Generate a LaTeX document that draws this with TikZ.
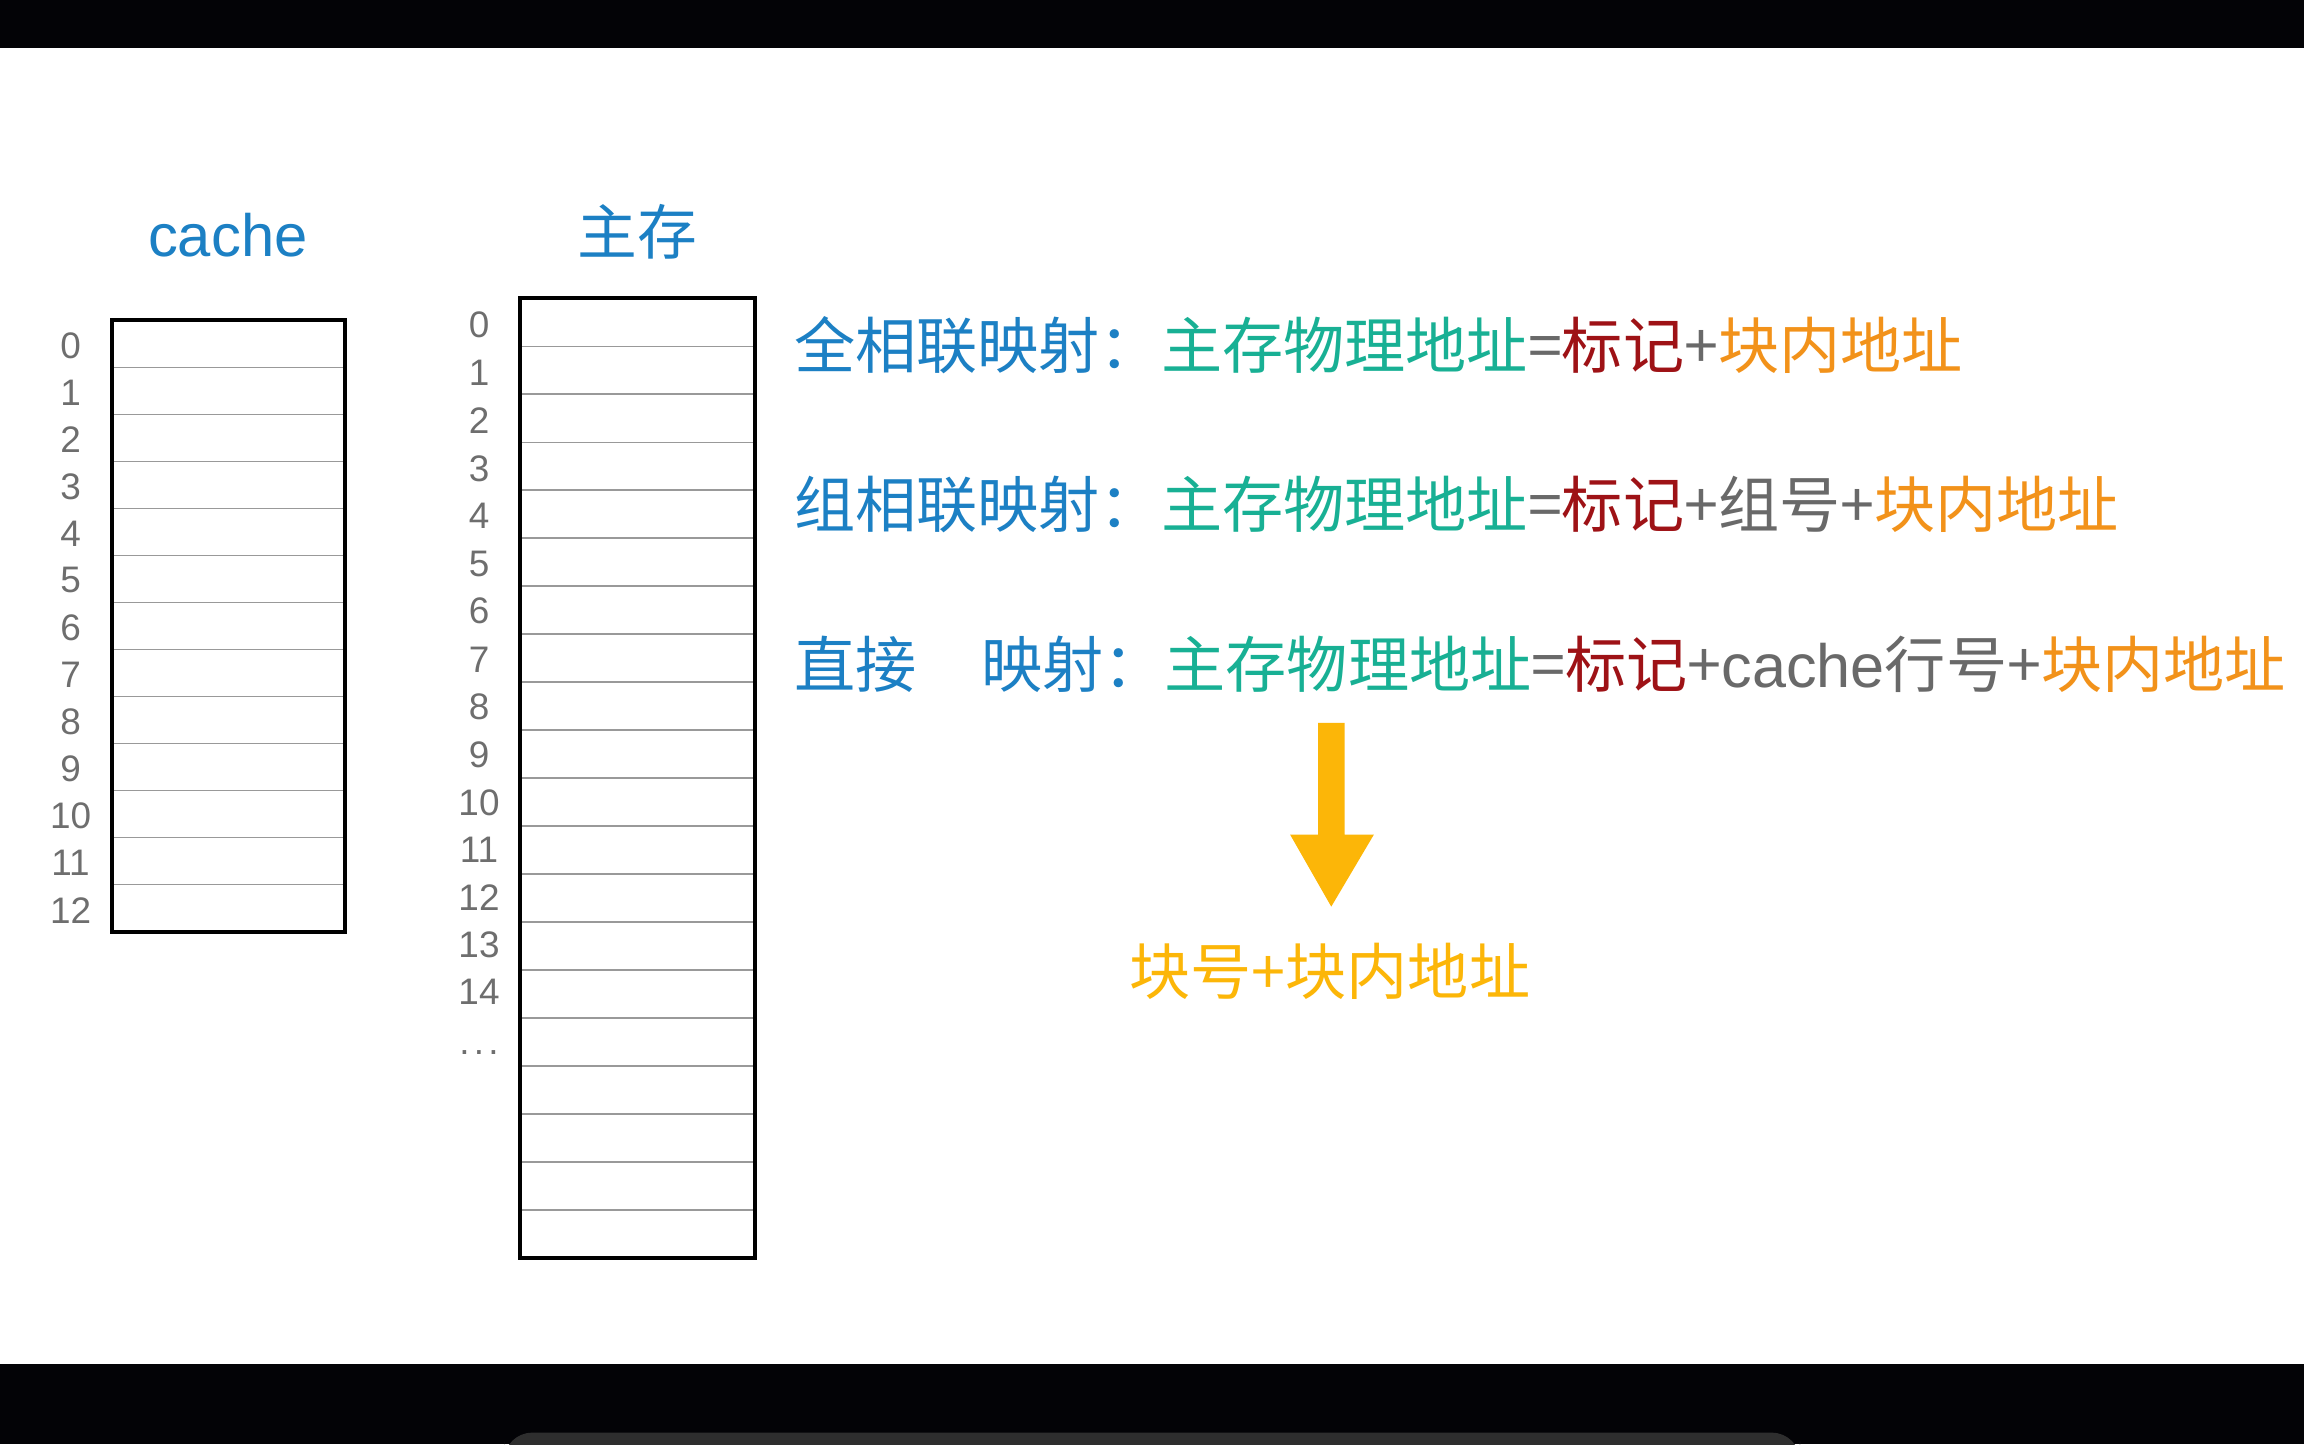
\documentclass[tikz,border=0pt]{standalone}
\usepackage{fontspec}
\setmainfont{Noto Sans CJK SC}
\newfontfamily\latinfont{Liberation Sans}
\definecolor{headblue}{RGB}{28,128,196}
\definecolor{addrteal}{RGB}{24,176,148}
\definecolor{tagred}{RGB}{158,18,22}
\definecolor{opgray}{RGB}{105,105,105}
\definecolor{offorange}{RGB}{242,146,26}
\definecolor{amber}{RGB}{252,182,8}
\definecolor{numgray}{RGB}{110,110,110}
\definecolor{barblack}{RGB}{3,3,6}
\tikzset{
  rowline/.style={draw=gray!80,line width=0.45pt},
  memframe/.style={draw=black,line width=1.1pt},
  idx/.style={inner sep=0pt,text=numgray,font=\latinfont\fontsize{10.5}{12}\selectfont},
  title/.style={inner sep=0pt,text=headblue,font=\fontsize{17}{20}\selectfont},
  formula/.style={inner sep=0pt,anchor=west,font=\fontsize{17.4}{20}\selectfont}
}
\begin{document}
\begin{tikzpicture}[x=0.014694cm,y=-0.014694cm]
\useasboundingbox (0,0) rectangle (1568,983);
\fill[white] (0,0) rectangle (1568,983);

% black bars of the frame
\fill[barblack] (0,0) rectangle (1568,33);
\fill[barblack] (0,928) rectangle (1568,983);
\fill[black!82,rounded corners=8pt] (343,975) rectangle (1225,1000);

% titles
\node[title] (tcache) at (155,160) {\latinfont cache};
\node[title] (tmem) at (434,158) {主存};

% cache
\draw[rowline](76,250)--(235,250);
\draw[rowline](76,282)--(235,282);
\draw[rowline](76,314)--(235,314);
\draw[rowline](76,346)--(235,346);
\draw[rowline](76,378)--(235,378);
\draw[rowline](76,410)--(235,410);
\draw[rowline](76,442)--(235,442);
\draw[rowline](76,474)--(235,474);
\draw[rowline](76,506)--(235,506);
\draw[rowline](76,538)--(235,538);
\draw[rowline](76,570)--(235,570);
\draw[rowline](76,602)--(235,602);
\draw[memframe] (76,218) rectangle (235,634);
\node[idx] (c0) at (48,235) {0};
\node[idx] (c1) at (48,267) {1};
\node[idx] (c2) at (48,299) {2};
\node[idx] (c3) at (48,331) {3};
\node[idx] (c4) at (48,363) {4};
\node[idx] (c5) at (48,395) {5};
\node[idx] (c6) at (48,427) {6};
\node[idx] (c7) at (48,459) {7};
\node[idx] (c8) at (48,491) {8};
\node[idx] (c9) at (48,523) {9};
\node[idx] (c10) at (48,555) {10};
\node[idx] (c11) at (48,587) {11};
\node[idx] (c12) at (48,620) {12};

% main memory
\draw[rowline](354,235.7)--(514,235.7);
\draw[rowline](354,268.3)--(514,268.3);
\draw[rowline](354,301.0)--(514,301.0);
\draw[rowline](354,333.6)--(514,333.6);
\draw[rowline](354,366.3)--(514,366.3);
\draw[rowline](354,398.9)--(514,398.9);
\draw[rowline](354,431.6)--(514,431.6);
\draw[rowline](354,464.2)--(514,464.2);
\draw[rowline](354,496.9)--(514,496.9);
\draw[rowline](354,529.5)--(514,529.5);
\draw[rowline](354,562.2)--(514,562.2);
\draw[rowline](354,594.8)--(514,594.8);
\draw[rowline](354,627.5)--(514,627.5);
\draw[rowline](354,660.1)--(514,660.1);
\draw[rowline](354,692.8)--(514,692.8);
\draw[rowline](354,725.4)--(514,725.4);
\draw[rowline](354,758.1)--(514,758.1);
\draw[rowline](354,790.7)--(514,790.7);
\draw[rowline](354,823.4)--(514,823.4);
\draw[memframe] (354,203) rectangle (514,856);
\node[idx] (m0) at (326,221) {0};
\node[idx] (m1) at (326,254) {1};
\node[idx] (m2) at (326,286) {2};
\node[idx] (m3) at (326,319) {3};
\node[idx] (m4) at (326,351) {4};
\node[idx] (m5) at (326,384) {5};
\node[idx] (m6) at (326,416) {6};
\node[idx] (m7) at (326,449) {7};
\node[idx] (m8) at (326,481) {8};
\node[idx] (m9) at (326,514) {9};
\node[idx] (m10) at (326,546) {10};
\node[idx] (m11) at (326,578) {11};
\node[idx] (m12) at (326,611) {12};
\node[idx] (m13) at (326,643) {13};
\node[idx] (m14) at (326,675) {14};
\node[idx] (mdots) at (326,716) {.\kern1.2pt.\kern1.2pt.};

% mapping formulas
\node[formula] (full) at (540,235) {\textcolor{headblue}{全相联映射：}\textcolor{addrteal}{主存物理地址}\textcolor{opgray}{=}\textcolor{tagred}{标记}\textcolor{opgray}{+}\textcolor{offorange}{块内地址}};
\node[formula] (set) at (540,343) {\textcolor{headblue}{组相联映射：}\textcolor{addrteal}{主存物理地址}\textcolor{opgray}{=}\textcolor{tagred}{标记}\textcolor{opgray}{+组号+}\textcolor{offorange}{块内地址}};
\node[formula] (direct) at (540,452) {\textcolor{headblue}{直接　\kern1pt映射：}\textcolor{addrteal}{主存物理地址}\textcolor{opgray}{=}\textcolor{tagred}{标记}\textcolor{opgray}{+{\latinfont cache}行号+}\textcolor{offorange}{块内地址}};

% block arrow
\fill[amber] (897,492)--(915,492)--(915,568)--(935,568)--(906,617)--(878,568)--(897,568)--cycle;
\node[formula,anchor=center,text=amber] (blk) at (905,661) {块号+块内地址};

\end{tikzpicture}
\end{document}
